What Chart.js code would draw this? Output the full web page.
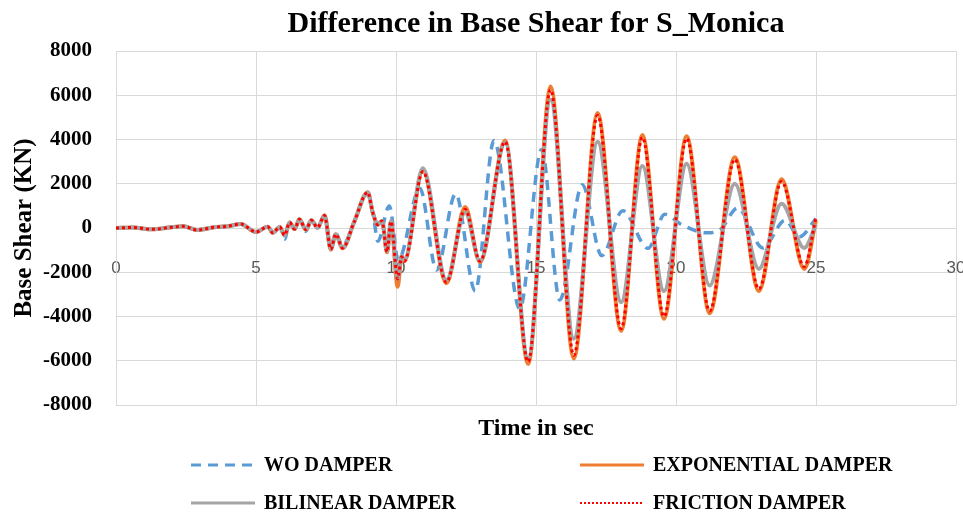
<!DOCTYPE html>
<html>
<head>
<meta charset="utf-8">
<script src="https://cdn.jsdelivr.net/npm/chart.js@4.4.0/dist/chart.umd.min.js"></script>
<style>
    html, body { margin: 0; padding: 0; background: #fff; }
    #wrap { width: 963px; height: 515px; }
</style>
</head>
<body>
<div id="wrap"><canvas id="shear-chart" width="963" height="515"></canvas></div>
<script>
// Peaks / troughs (time in sec)
const dampedTime = [0, 0.6, 1.3, 1.9, 2.4, 2.9, 3.5, 4.0, 4.45, 5.0,
    5.42, 5.6, 5.85, 6.02, 6.2, 6.38, 6.55, 6.78, 6.98, 7.2,
    7.45, 7.67, 7.85, 8.09, 8.5, 8.99, 9.17, 9.35, 9.5, 9.68,
    9.82, 10.06, 10.2, 10.3, 10.96, 11.8, 12.47, 13.0, 13.9, 14.72,
    15.52, 16.35, 17.2, 18.04, 18.8, 19.57, 20.38, 21.2, 22.1, 22.96,
    23.77, 24.58, 25.0];

const exponentialShear = [0, 20, -60, 20, 75, -90, 30, 80, 180, -180,
    60, -220, 50, -330, 250, -50, 400, -75, 350, 20,
    580, -980, -280, -920, 250, 1620, 700, 150, 320, -1100,
    300, -2650, -1300, -1500, 2600, -2500, 950, -1550, 3950, -6150,
    6400, -5900, 5200, -4650, 4200, -4100, 4150, -3850, 3200, -2850,
    2200, -1850, 350];

const bilinearShear = [0, 20, -60, 20, 75, -90, 30, 80, 180, -180,
    60, -220, 50, -330, 250, -50, 400, -75, 350, 20,
    560, -950, -280, -900, 250, 1600, 700, 150, 320, -1050,
    300, -2300, -1250, -1450, 2700, -2350, 700, -1500, 3850, -5900,
    5800, -5000, 3900, -3350, 2800, -2850, 2900, -2600, 2000, -1850,
    1100, -900, 150];

const frictionShear = [0, 20, -60, 20, 75, -90, 30, 80, 180, -180,
    60, -220, 50, -330, 250, -50, 400, -75, 350, 20,
    570, -960, -280, -910, 250, 1610, 700, 150, 320, -1080,
    300, -2300, -1300, -1500, 2550, -2450, 850, -1500, 3900, -6050,
    6250, -5750, 5100, -4550, 4100, -4000, 4050, -3750, 3100, -2750,
    2100, -1750, 500];

// The undamped frame drifts out of phase after ~9 s
const woTime = [0, 0.6, 1.3, 1.9, 2.4, 2.9, 3.5, 4.0, 4.45, 5.0,
    5.42, 5.6, 5.85, 6.02, 6.2, 6.38, 6.55, 6.78, 6.98, 7.2,
    7.45, 7.67, 7.85, 8.09, 8.5, 8.99, 9.2, 9.35, 9.76, 10.08,
    10.85, 11.45, 12.13, 12.83, 13.5, 14.42, 15.2, 15.85, 16.65, 17.35,
    18.1, 19.0, 19.6, 20.2, 21.1, 21.6, 22.2, 23.1, 23.9, 24.4,
    25.0];

const woShear = [0, 20, -60, 20, 75, -90, 30, 80, 180, -180,
    60, -220, 50, -500, 250, -50, 400, -150, 350, 0,
    550, -850, -250, -800, 250, 1550, 500, -600, 1000, -1450,
    1800, -1900, 1550, -2850, 3950, -3650, 3550, -3250, 1950, -1250,
    780, -920, 620, 150, -220, -50, 900, -900, 350, -400,
    420];

const seriesLabels = ['WO DAMPER', 'EXPONENTIAL DAMPER', 'BILINEAR DAMPER', 'FRICTION DAMPER'];

const toPoints = (xs, ys) => xs.map((x, i) => ({ x: x, y: ys[i] }));

const serif = '"Liberation Serif", "Times New Roman", serif';

// Legend drawn as a 2 x 2 grid below the axis title, like the Excel original
const gridLegend = {
    id: 'gridLegend',
    afterDraw(chart) {
        const ctx = chart.ctx;
        const cols = [191, 580];
        const rows = [465, 503];
        chart.data.datasets.forEach((ds, i) => {
            const x = cols[i % 2];
            const y = rows[Math.floor(i / 2)];
            ctx.save();
            ctx.strokeStyle = ds.borderColor;
            ctx.lineWidth = ds.legendWidth || ds.borderWidth;
            ctx.setLineDash(ds.legendDash || ds.borderDash || []);
            ctx.beginPath();
            ctx.moveTo(x, y);
            ctx.lineTo(x + 64, y);
            ctx.stroke();
            ctx.setLineDash([]);
            ctx.fillStyle = '#000';
            ctx.font = 'bold 20px ' + serif;
            ctx.textBaseline = 'middle';
            ctx.fillText(ds.label, x + 73, y + 1);
            ctx.restore();
        });
    }
};

new Chart(document.getElementById('shear-chart'), {
    type: 'line',
    data: {
        datasets: [
            {
                label: seriesLabels[0],
                data: toPoints(woTime, woShear),
                borderColor: '#5B9BD5',
                borderWidth: 3.5,
                borderDash: [10, 7],
                legendWidth: 3,
                legendDash: [10, 7],
                order: 4
            },
            {
                label: seriesLabels[1],
                data: toPoints(dampedTime, exponentialShear),
                borderColor: '#ED7D31',
                borderWidth: 4,
                legendWidth: 3,
                order: 3
            },
            {
                label: seriesLabels[2],
                data: toPoints(dampedTime, bilinearShear),
                borderColor: '#A5A5A5',
                borderWidth: 4,
                legendWidth: 3,
                order: 2
            },
            {
                label: seriesLabels[3],
                data: toPoints(dampedTime, frictionShear),
                borderColor: '#FF0000',
                borderWidth: 3,
                borderDash: [3, 3],
                legendWidth: 2,
                legendDash: [2, 2],
                order: 1
            }
        ]
    },
    options: {
        responsive: false,
        animation: false,
        cubicInterpolationMode: 'monotone',
        elements: { point: { radius: 0 } },
        layout: { padding: { left: 0, right: 7, top: 0, bottom: 70 } },
        plugins: {
            legend: { display: false },
            tooltip: { enabled: false },
            title: {
                display: true,
                fullSize: false,
                text: 'Difference in Base Shear for S_Monica',
                color: '#000',
                font: { family: serif, size: 30, weight: 'bold' },
                padding: { top: 6, bottom: 9 }
            }
        },
        scales: {
            x: {
                type: 'linear',
                position: { y: 0 },
                min: 0,
                max: 30,
                ticks: {
                    stepSize: 5,
                    color: '#595959',
                    font: { family: '"Liberation Sans", Arial, sans-serif', size: 17 },
                    padding: 30,
                    maxRotation: 0
                },
                grid: { color: '#d9d9d9', drawTicks: false },
                border: { color: '#d9d9d9' },
                afterFit(scale) { scale.paddingLeft = 0; scale.paddingRight = 0; }
            },
            x2: {
                type: 'linear',
                position: 'bottom',
                min: 0,
                max: 30,
                grid: { display: false },
                border: { display: false },
                ticks: { display: false },
                title: {
                    display: true,
                    text: 'Time in sec',
                    color: '#000',
                    font: { family: serif, size: 24, weight: 'bold' },
                    padding: { top: 0, bottom: 2 }
                },
                afterFit(scale) { scale.height = 40; }
            },
            y: {
                min: -8000,
                max: 8000,
                ticks: {
                    stepSize: 2000,
                    color: '#000',
                    font: { family: serif, size: 21, weight: 'bold' },
                    padding: 24,
                    callback: v => String(v)
                },
                grid: { color: '#d9d9d9', drawTicks: false },
                border: { color: '#d9d9d9' },
                title: {
                    display: true,
                    text: 'Base Shear (KN)',
                    color: '#000',
                    font: { family: serif, size: 25, weight: 'bold' },
                    padding: { top: 10, bottom: 0 }
                },
                afterFit(scale) { scale.width = 116; }
            }
        }
    },
    plugins: [gridLegend]
});
</script>
</body>
</html>
